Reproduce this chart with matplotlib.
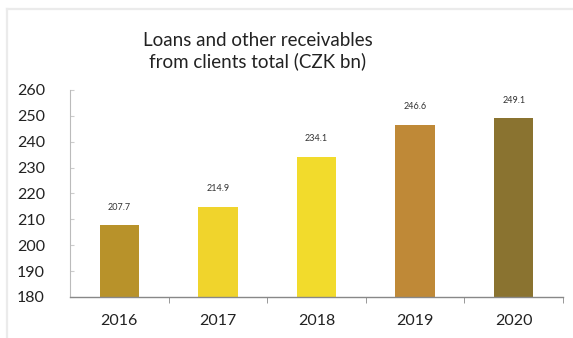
import matplotlib.pyplot as plt
import numpy as np

years = ["2016", "2017", "2018", "2019", "2020"]
values = [207.7, 214.9, 234.1, 246.6, 249.1]
bar_colors = ["#B8922A", "#F0D42C", "#F2DB2C", "#BF8937", "#8A7330"]
y_ticks = [180, 190, 200, 210, 220, 230, 240, 250, 260]

plt.rcParams['font.family'] = ['Lato', 'DejaVu Sans']

fig = plt.figure(figsize=(5.73, 3.38), dpi=100)
fig.patch.set_facecolor("white")

# light frame along the top and left edges
fig.add_artist(plt.Line2D([7 / 573, 7 / 573], [0, 1 - 9 / 338], color="#ebebeb", lw=1.6, transform=fig.transFigure))
fig.add_artist(plt.Line2D([7 / 573, 1], [1 - 9 / 338, 1 - 9 / 338], color="#ebebeb", lw=1.6, transform=fig.transFigure))

ax = fig.add_axes([70 / 573, 1 - 297 / 338, (563 - 70) / 573, (297 - 90) / 338])
x = np.arange(len(years))
bars = ax.bar(x, values, width=0.4, color=bar_colors, zorder=2)

for xi, v in zip(x, values):
    ax.text(xi, v + 7, f"{v:.1f}", ha="center", va="center", fontsize=6.5, color="#333333")

ax.set_ylim(180, 260)
ax.set_xlim(-0.5, 4.5)
ax.set_yticks(y_ticks)
ax.set_yticklabels([str(t) for t in y_ticks], fontsize=11.5, color="#222222")
ax.tick_params(axis="y", direction="in", length=3, color="#cccccc", pad=18)

ax.set_xticks(x)
ax.set_xticklabels(years, fontsize=11.5, color="#222222")
ax.tick_params(axis="x", which="major", length=0, pad=12)
ax.set_xticks(np.arange(0.5, 5, 1), minor=True)
ax.tick_params(axis="x", which="minor", direction="out", length=4, color="#888888")

for side in ["top", "right"]:
    ax.spines[side].set_visible(False)
ax.spines["left"].set_color("#bbbbbb")
ax.spines["bottom"].set_color("#888888")
ax.spines["bottom"].set_linewidth(1.0)

fig.text(258 / 573, 1 - 51 / 338, "Loans and other receivables\nfrom clients total (CZK bn)",
         ha="center", va="center", fontsize=13.5, color="#222222", linespacing=1.25)

fig.savefig("out.png", dpi=100)
